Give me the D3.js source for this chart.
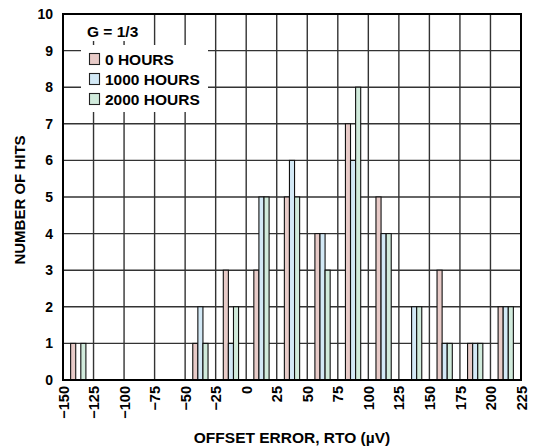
<!DOCTYPE html>
<html><head><meta charset="utf-8">
<script src="https://cdn.jsdelivr.net/npm/d3@7"></script>
<style>body{margin:0;background:#fff}svg text{font-family:"Liberation Sans",Arial,sans-serif;font-weight:bold;fill:#000}</style>
</head><body><svg id="c" width="553" height="446"></svg>
<script>
const binCenters = [-137.5, -37.5, -12.5, 12.5, 37.5, 62.5, 87.5, 112.5, 137.5, 162.5, 187.5, 212.5];
const hours0    = [1, 1, 3, 3, 5, 4, 7, 5, 0, 3, 1, 2];
const hours1000 = [0, 2, 1, 5, 6, 4, 6, 4, 2, 1, 1, 2];
const hours2000 = [1, 1, 2, 5, 5, 3, 8, 4, 2, 1, 1, 2];
const seriesNames = ["0 HOURS", "1000 HOURS", "2000 HOURS"];
const seriesColors = ["#e8cbc8", "#d3e9f6", "#d1ebdc"];
const xTicks = [-150,-125,-100,-75,-50,-25,0,25,50,75,100,125,150,175,200,225];
const yTicks = [0,1,2,3,4,5,6,7,8,9,10];

const svg = d3.select("#c");
const L=63, R=521, T=14, B=380;
const x = d3.scaleLinear().domain([-150,225]).range([L,R]);
const y = d3.scaleLinear().domain([0,10]).range([B,T]);

// grid
const g = svg.append("g");
g.selectAll("line.v").data(xTicks.slice(1,-1)).enter().append("line")
 .attr("x1",d=>x(d)).attr("x2",d=>x(d)).attr("y1",T).attr("y2",B)
 .attr("stroke","#333").attr("stroke-width",1.4);
g.selectAll("line.h").data(yTicks.slice(1,-1)).enter().append("line")
 .attr("x1",L).attr("x2",R).attr("y1",d=>y(d)).attr("y2",d=>y(d))
 .attr("stroke","#333").attr("stroke-width",1.4);

// bars
const series = [hours0, hours1000, hours2000];
const bw = 12.5/3;
series.forEach((vals,si)=>{
  svg.append("g").selectAll("rect").data(binCenters.map((c,i)=>({c,v:vals[i]})).filter(d=>d.v>0))
   .enter().append("rect")
   .attr("x",d=>x(d.c-6.25+si*bw))
   .attr("width",d=>x(d.c-6.25+(si+1)*bw)-x(d.c-6.25+si*bw))
   .attr("y",d=>y(d.v)).attr("height",d=>y(0)-y(d.v))
   .attr("fill",seriesColors[si]).attr("stroke","#111").attr("stroke-width",1.1);
});

// legend backgrounds
svg.append("rect").attr("x",x(-149)).attr("y",T+1).attr("width",x(-80)-x(-149)).attr("height",26).attr("fill","#fff");
svg.append("rect").attr("x",81).attr("y",45).attr("width",127).attr("height",67).attr("fill","#fff");
svg.append("text").attr("x",87).attr("y",37).attr("font-size",15.5).text("G = 1/3");
seriesNames.forEach((n,i)=>{
  svg.append("rect").attr("x",89.5).attr("y",53.5+i*20).attr("width",10).attr("height",11)
   .attr("fill",seriesColors[i]).attr("stroke","#222").attr("stroke-width",1.1);
  svg.append("text").attr("x",105).attr("y",64.5+i*20).attr("font-size",15.5).text(n);
});

// border
svg.append("rect").attr("x",L).attr("y",T).attr("width",R-L).attr("height",B-T)
 .attr("fill","none").attr("stroke","#000").attr("stroke-width",2);

// axes
const xa = svg.append("g").attr("transform",`translate(0,${B})`)
 .call(d3.axisBottom(x).tickValues(xTicks).tickSize(0).tickFormat(d=>d<0?"\u2212"+Math.abs(d):d));
xa.select(".domain").remove();
xa.selectAll("text").attr("font-size",14.5).attr("transform","rotate(-90)")
 .attr("text-anchor","end").attr("x",-6).attr("y",0).attr("dy","0.35em");
const ya = svg.append("g").attr("transform",`translate(${L},0)`)
 .call(d3.axisLeft(y).tickValues(yTicks).tickSize(0).tickFormat(d3.format("d")));
ya.select(".domain").remove();
ya.selectAll("text").attr("font-size",14).attr("x",-10);

svg.append("text").attr("x",(L+R)/2).attr("y",443).attr("text-anchor","middle").attr("font-size",15.5)
 .text("OFFSET ERROR, RTO (\u00b5V)");
svg.append("text").attr("transform",`translate(25,${(T+B)/2+3}) rotate(-90)`).attr("text-anchor","middle")
 .attr("font-size",15).text("NUMBER OF HITS");
</script></body></html>
